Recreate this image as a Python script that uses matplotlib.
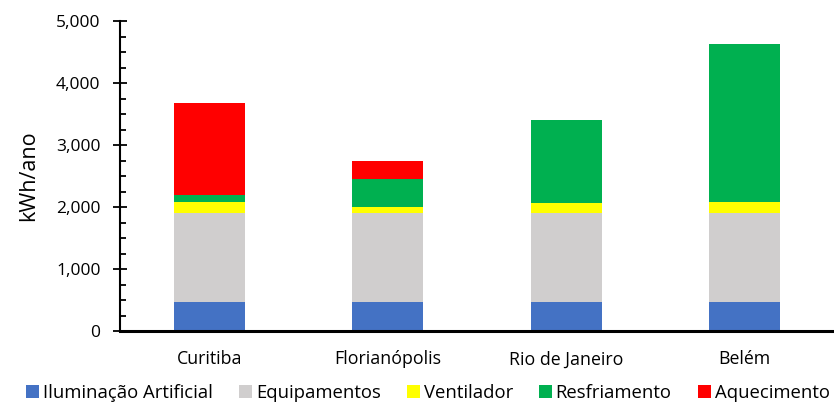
import numpy as np
import matplotlib
matplotlib.use("Agg")
import matplotlib.pyplot as plt
from matplotlib.ticker import MultipleLocator, FuncFormatter

plt.rcParams['font.family'] = ['Open Sans', 'DejaVu Sans']

cidades = ['Curitiba', 'Florianópolis', 'Rio de Janeiro', 'Belém']
iluminacao = [460, 460, 460, 460]
equipamentos = [1440, 1440, 1440, 1440]
ventilador = [180, 95, 160, 180]
resfriamento = [110, 450, 1345, 2550]
aquecimento = [1480, 295, 0, 0]

series = [
    ('Iluminação Artificial', iluminacao, '#4472C4'),
    ('Equipamentos', equipamentos, '#D0CECE'),
    ('Ventilador', ventilador, '#FFFF00'),
    ('Resfriamento', resfriamento, '#00B050'),
    ('Aquecimento', aquecimento, '#FF0000'),
]

fig = plt.figure(figsize=(8.34, 4.05), dpi=100)
ax = fig.add_axes([120 / 834, 74 / 405, 714 / 834, 310 / 405])

x = np.arange(len(cidades))
base = np.zeros(len(cidades))
for nome, vals, cor in series:
    ax.bar(x, vals, 0.4, bottom=base, color=cor, label=nome)
    base += np.array(vals)

ax.set_xlim(-0.5, len(cidades) - 0.5)
ax.set_ylim(0, 5000)
ax.set_xticks(x)
ax.set_xticklabels(cidades, fontsize=12.8)
ax.tick_params(axis='x', length=0, pad=14)
ax.yaxis.set_major_locator(MultipleLocator(1000))
ax.yaxis.set_minor_locator(MultipleLocator(250))
ax.yaxis.set_major_formatter(FuncFormatter(lambda v, p: f'{v:,.0f}'))
ax.tick_params(axis='y', which='major', direction='inout', length=10, width=1.3, labelsize=12.5, pad=9)
ax.tick_params(axis='y', which='minor', direction='in', length=4, width=1.3)
ax.set_ylabel('kWh/ano', fontsize=15.5, labelpad=12)

for s in ['top', 'right']:
    ax.spines[s].set_visible(False)
ax.spines['left'].set_linewidth(1.5)
ax.spines['bottom'].set_linewidth(2.2)

fig.legend(loc='center', bbox_to_anchor=(428 / 834, 1 - 393 / 405), ncol=5,
           frameon=False, fontsize=13.3, handlelength=0.7, handleheight=0.7,
           handletextpad=0.2, columnspacing=1.42, borderaxespad=0)

fig.savefig('out.png', dpi=100)
